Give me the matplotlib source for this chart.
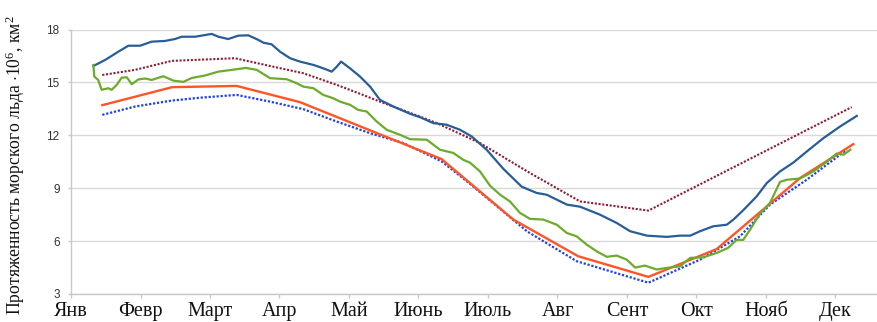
import matplotlib
matplotlib.use("Agg")
import matplotlib.pyplot as plt

# --- data (x in day of year, y in million km^2) ---
months = ["Янв", "Февр", "Март", "Апр", "Май", "Июнь", "Июль",
          "Авг", "Сент", "Окт", "Нояб", "Дек"]
yticks = [3, 6, 9, 12, 15, 18]

blue_day = [9.8, 14.9, 20.7, 25.1, 30.2, 35.3, 41.1, 45.5, 48.5, 54.3, 61.6, 64.5,
            68.8, 73.2, 77.6, 82.0, 84.2, 87.8, 91.5, 95.9, 100.2, 106.1, 110.4,
            114.1, 116.3, 118.2, 122.1, 126.5, 130.9, 135.2, 141.1, 148.4, 152.7,
            158.6, 164.4, 170.3, 175.4, 181.9, 189.2, 197.3, 203.8, 208.2, 217.0,
            222.8, 231.5, 238.8, 244.7, 252.0, 260.7, 266.6, 271.0, 275.3, 281.1,
            287.0, 289.9, 294.2, 300.1, 304.5, 310.3, 316.1, 322.0, 329.3, 336.6,
            343.9]
blue_val = [15.93, 16.27, 16.74, 17.08, 17.08, 17.31, 17.35, 17.46, 17.59, 17.59,
            17.75, 17.59, 17.46, 17.65, 17.67, 17.41, 17.25, 17.16, 16.74, 16.37,
            16.18, 15.99, 15.80, 15.61, 15.89, 16.18, 15.80, 15.33, 14.76, 14.01,
            13.63, 13.22, 13.03, 12.69, 12.60, 12.31, 11.93, 11.18, 10.10, 9.08,
            8.73, 8.63, 8.07, 7.95, 7.50, 7.03, 6.56, 6.31, 6.24, 6.31, 6.31, 6.56,
            6.84, 6.93, 7.22, 7.75, 8.54, 9.29, 9.95, 10.45, 11.08, 11.84, 12.50,
            13.10]

green_day = [9.8, 10.2, 11.9, 13.4, 16.3, 17.8, 20.0, 22.2, 24.4, 26.6, 29.5, 32.4,
             35.3, 40.4, 44.8, 49.2, 52.8, 58.6, 64.5, 70.3, 76.6, 81.3, 87.1, 94.4,
             98.8, 101.7, 106.1, 110.4, 114.8, 117.7, 122.1, 125.7, 129.4, 133.8,
             138.2, 144.0, 148.4, 155.7, 161.5, 167.3, 171.7, 174.6, 179.0, 183.4,
             187.8, 192.1, 196.5, 200.9, 206.7, 212.6, 217.0, 221.3, 225.7, 230.1,
             234.5, 238.8, 243.2, 246.9, 251.2, 256.3, 260.7, 266.6, 271.0, 276.7,
             282.6, 287.5, 291.3, 294.2, 297.2, 301.5, 305.9, 310.3, 313.3, 319.1,
             324.9, 330.8, 335.1, 338.1, 341.1]
green_val = [15.99, 15.33, 15.14, 14.58, 14.67, 14.58, 14.86, 15.27, 15.29, 14.90,
             15.17, 15.22, 15.14, 15.35, 15.10, 15.03, 15.25, 15.39, 15.61, 15.71,
             15.82, 15.71, 15.24, 15.18, 14.95, 14.76, 14.67, 14.29, 14.10, 13.91,
             13.73, 13.44, 13.35, 12.78, 12.31, 12.03, 11.78, 11.75, 11.18, 11.00,
             10.61, 10.45, 9.95, 9.14, 8.63, 8.25, 7.60, 7.26, 7.22, 6.93, 6.46,
             6.27, 5.80, 5.42, 5.11, 5.18, 4.95, 4.50, 4.61, 4.39, 4.48, 4.57, 5.05,
             5.08, 5.33, 5.61, 6.07, 6.07, 6.65, 7.55, 8.16, 9.36, 9.48, 9.55, 9.95,
             10.50, 10.97, 10.90, 11.18]

orange_day = [13.7, 44.3, 72.5, 100.2, 162.2, 193.6, 222.0, 252.7, 282.6, 319.1, 342.4]
orange_val = [13.71, 14.73, 14.80, 13.88, 10.65, 7.22, 5.14, 3.97, 5.55, 9.58, 11.50]

bdot_day = [13.7, 28.0, 44.1, 57.2, 72.5, 87.1, 101.7, 116.3, 130.9, 145.4, 162.2,
            174.6, 199.5, 221.3, 252.7, 275.3, 292.8, 305.9, 322.0, 339.5]
bdot_val = [13.16, 13.63, 13.97, 14.14, 14.29, 13.91, 13.48, 12.78, 12.12, 11.56,
            10.52, 9.25, 6.56, 4.86, 3.64, 4.95, 6.27, 8.07, 9.48, 11.18]

rdot_day = [13.7, 28.0, 44.1, 71.8, 87.1, 101.7, 116.3, 127.8, 135.2, 152.7, 160.1,
            179.0, 200.9, 222.8, 252.7, 341.7]
rdot_val = [15.42, 15.71, 16.22, 16.37, 15.93, 15.52, 14.86, 14.29, 13.91, 13.06,
            12.69, 11.56, 9.86, 8.25, 7.73, 13.60]

# --- figure ---
plt.rcParams["mathtext.fontset"] = "custom"
plt.rcParams["mathtext.rm"] = "Liberation Serif"
plt.rcParams["mathtext.it"] = "Liberation Serif:italic"

fig = plt.figure(figsize=(8.78, 3.22), dpi=100)
ax = fig.add_axes([71 / 878, 1 - 294 / 322, 1 - 71 / 878, (294 - 29.5) / 322])

month_len = 365 / 12
month_pos = [i * month_len for i in range(12)]

dots = (0, (1, 0.8))
ax.plot(rdot_day, rdot_val, color="#8c1c33", lw=1.5, ls=dots, zorder=3)
ax.plot(bdot_day, bdot_val, color="#2040f0", lw=1.6, ls=dots, zorder=3)
ax.plot(orange_day, orange_val, color="#ff5526", lw=1.7, zorder=4)
ax.plot(blue_day, blue_val, color="#295d98", lw=1.6, zorder=5)
ax.plot(green_day, green_val, color="#6cab2c", lw=1.6, zorder=5)

ax.set_xlim(0, (878 - 71) / 69.5 * month_len)
ax.set_ylim(3, 18)

ax.set_yticks(yticks)
ax.set_yticklabels([str(v) for v in yticks], family="Liberation Sans",
                   fontsize=8.5, color="#333333")
ax.set_xticks(month_pos)
ax.set_xticklabels(months, family="Liberation Serif", fontsize=14.5, color="#111111")

ax.grid(axis="y", color="#d9d9d9", lw=1.0)
ax.set_axisbelow(True)
for side in ("top", "right"):
    ax.spines[side].set_visible(False)
for side in ("left", "bottom"):
    ax.spines[side].set_color("#c8c8c8")
    ax.spines[side].set_linewidth(1.0)
ax.tick_params(axis="x", direction="out", length=3, width=1, color="#c8c8c8", pad=3)
ax.tick_params(axis="y", direction="out", length=2.2, width=1, color="#c8c8c8", pad=6)

fig.text(15 / 878, 1 - 165 / 322,
         "Протяженность морского льда $\\cdot10^6$, км$^2$",
         rotation=90, ha="center", va="center",
         family="Liberation Serif", fontsize=12.7, color="#111111")

fig.savefig("out.png", dpi=100)
